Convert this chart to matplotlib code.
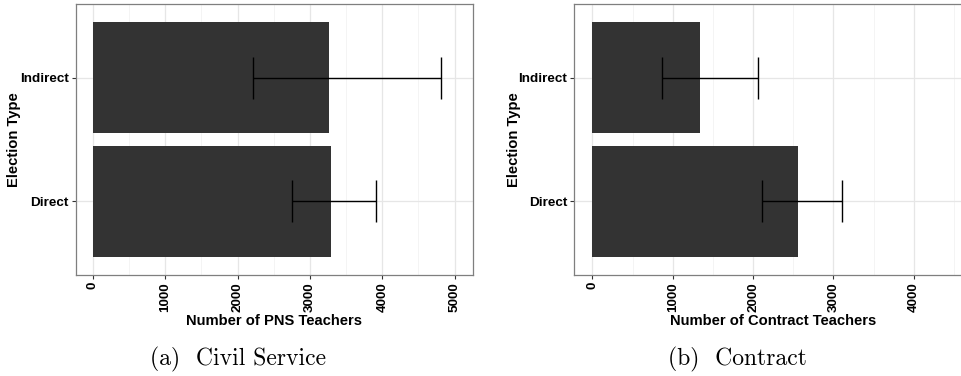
import matplotlib
matplotlib.use("Agg")
import matplotlib.pyplot as plt
from matplotlib.ticker import MultipleLocator

# Data
categories = ["Direct", "Indirect"]

pns_mean = [3292, 3264]
pns_low = [2757, 2213]
pns_high = [3918, 4813]

contract_mean = [2555, 1336]
contract_low = [2107, 871]
contract_high = [3106, 2061]

W, H = 962, 376
fig = plt.figure(figsize=(W / 100, H / 100), dpi=100)

SANS = ["Liberation Sans", "DejaVu Sans"]
BAR = "#333333"
FRAME = "#7f7f7f"
PANEL_W = 397


def panel(left_px, xlim, means, lows, highs, xlabel, caption, cap_x, ylab_x):
    top_px, bottom_px = 4, 275
    ax = fig.add_axes([left_px / W, (H - bottom_px) / H,
                       PANEL_W / W, (bottom_px - top_px) / H])
    y = list(range(1, len(categories) + 1))
    ax.barh(y, means, height=0.9, color=BAR, zorder=2)
    err = [[m - l for m, l in zip(means, lows)],
           [h - m for m, h in zip(means, highs)]]
    ax.errorbar(means, y, xerr=err, fmt="none", ecolor="black",
                elinewidth=1.0, capsize=15, capthick=1.0, zorder=3)
    ax.set_xlim(*xlim)
    ax.set_ylim(0.4, len(categories) + 0.6)
    ax.set_yticks(y)
    ax.set_yticklabels(categories, fontfamily=SANS, fontweight="bold",
                       fontsize=9.7)
    ax.xaxis.set_major_locator(MultipleLocator(1000))
    ax.xaxis.set_minor_locator(MultipleLocator(500))
    for lab in ax.get_xticklabels():
        lab.set_rotation(90)
        lab.set_fontfamily(SANS)
        lab.set_fontweight("bold")
        lab.set_fontsize(9.7)
    ax.tick_params(axis="both", which="major", length=3, width=0.8,
                   color="#333333", pad=2)
    ax.tick_params(axis="x", which="minor", length=0)
    ax.grid(True, which="major", color="#e6e6e6", lw=0.9, zorder=0)
    ax.grid(True, which="minor", axis="x", color="#f3f3f3", lw=0.6, zorder=0)
    ax.set_axisbelow(True)
    for s in ax.spines.values():
        s.set_color(FRAME)
        s.set_linewidth(0.9)
    ax.set_xlabel(xlabel, fontfamily=SANS, fontweight="bold", fontsize=10.6,
                  labelpad=2)
    ax.set_ylabel("Election Type", fontfamily=SANS, fontweight="bold",
                  fontsize=10.6)
    ax.yaxis.set_label_coords(ylab_x, 0.5)
    fig.text(cap_x / W, (H - 359) / H, caption, fontfamily="cmr10",
             fontsize=17, ha="center", va="center")
    return ax


panel(75.7, (-239, 5250), pns_mean, pns_low, pns_high,
      "Number of PNS Teachers", "(a)  Civil Service", 238, -0.138)
panel(574.3, (-224, 4714), contract_mean, contract_low, contract_high,
      "Number of Contract Teachers", "(b)  Contract", 737, -0.135)

fig.savefig("out.png", dpi=100)
